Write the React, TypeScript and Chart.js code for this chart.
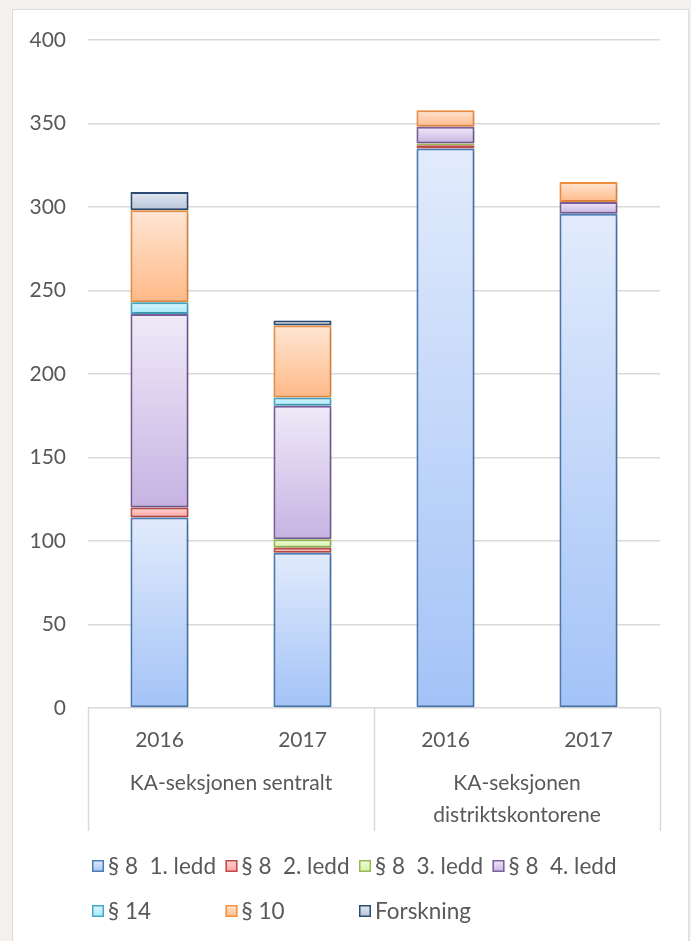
import React, { useEffect, useRef } from "react";
import { Chart, registerables } from "chart.js";

Chart.register(...registerables);

// ---- data ----
const years = ["2016", "2017", "2016", "2017"];
const groups = ["KA-seksjonen sentralt", ["KA-seksjonen", "distriktskontorene"]];
const seriesNames = ["§ 8  1. ledd", "§ 8  2. ledd", "§ 8  3. ledd", "§ 8  4. ledd", "§ 14", "§ 10", "Forskning"];
const s8l1 = [114, 93, 335, 296];
const s8l2 = [6, 3, 2, 0];
const s8l3 = [0, 5, 1, 0];
const s8l4 = [116, 80, 10, 7];
const s14 = [7, 5, 0, 0];
const s10 = [55, 43, 10, 12];
const forskning = [11, 3, 0, 0];
const seriesValues = [s8l1, s8l2, s8l3, s8l4, s14, s10, forskning];
const yTicks = [0, 50, 100, 150, 200, 250, 300, 350, 400];

// ---- styles ----
const borderColors = ["#4a7ebb", "#be4b48", "#98b954", "#7d60a0", "#46aac5", "#f69240", "#2c4d75"];
const lightColors = ["#e2ebfc", "#ffd9d8", "#f0fbdf", "#efeaf8", "#dcf7ff", "#ffe6d4", "#e3e8f0"];
const darkColors = ["#a3c3f7", "#ff9f9d", "#d4f3a2", "#c6b3e3", "#a6e8fa", "#ffb987", "#b7c4d8"];

const FONT = "Lato, 'Open Sans', sans-serif";
const TEXT = "#595959";
const GRID = "#d9d9d9";

function gradientFor(ctx: any, di: number) {
  const chart = ctx.chart;
  const y = chart.scales && chart.scales.y;
  if (ctx.type !== "data" || !y || !chart.chartArea) return lightColors[di];
  const i = ctx.dataIndex;
  let base = 0;
  for (let k = 0; k < di; k++) base += seriesValues[k][i];
  const top = base + seriesValues[di][i];
  const y0 = y.getPixelForValue(top);
  const y1 = y.getPixelForValue(base);
  if (!isFinite(y0) || !isFinite(y1) || y1 - y0 < 0.5) return darkColors[di];
  const g = chart.ctx.createLinearGradient(0, y0, 0, y1);
  g.addColorStop(0, lightColors[di]);
  g.addColorStop(1, darkColors[di]);
  return g;
}

const shadowPlugin = {
  id: "barShadow",
  beforeDatasetsDraw(chart: any) {
    const c = chart.ctx;
    c.save();
    c.shadowColor = "rgba(0,0,0,0.22)";
    c.shadowBlur = 4;
    c.shadowOffsetX = 1;
    c.shadowOffsetY = 1;
  },
  afterDatasetsDraw(chart: any) {
    chart.ctx.restore();
  },
};

const separatorPlugin = {
  id: "groupSeparators",
  afterDraw(chart: any) {
    const x = chart.scales.x;
    const x2 = chart.scales.x2;
    const c = chart.ctx;
    const top = chart.chartArea.bottom;
    const bottom = x2.bottom;
    const mid = (x.getPixelForValue(1) + x.getPixelForValue(2)) / 2;
    c.save();
    c.strokeStyle = GRID;
    c.lineWidth = 1.5;
    [x.left, mid, x.right].forEach((px) => {
      c.beginPath();
      c.moveTo(Math.round(px) + 0.5, top);
      c.lineTo(Math.round(px) + 0.5, bottom);
      c.stroke();
    });
    c.restore();
  },
};

const legendPlugin = {
  id: "gridLegend",
  afterDraw(chart: any) {
    const c = chart.ctx;
    c.save();
    c.font = `22.5px ${FONT}`;
    c.textBaseline = "middle";
    c.textAlign = "left";
    const box = 12;
    const gap = 4;
    const colW = 133.5;
    const cols = 4;
    const startX = chart.chartArea.left + 4;
    const firstRowY = chart.scales.x2.bottom + 35;
    const rowH = 45;
    seriesNames.forEach((name, k) => {
      const col = k % cols;
      const row = Math.floor(k / cols);
      const bx = startX + col * colW;
      const cy = firstRowY + row * rowH;
      const by = cy - box / 2;
      const g = c.createLinearGradient(0, by, 0, by + box);
      g.addColorStop(0, lightColors[k]);
      g.addColorStop(1, darkColors[k]);
      c.fillStyle = g;
      c.fillRect(bx, by, box, box);
      c.strokeStyle = borderColors[k];
      c.lineWidth = 1.5;
      c.strokeRect(bx + 0.75, by + 0.75, box - 1.5, box - 1.5);
      c.fillStyle = TEXT;
      c.fillText(name, bx + box + gap, cy + 1);
    });
    c.restore();
  },
};

export default function App() {
  const ref = useRef<HTMLCanvasElement | null>(null);

  useEffect(() => {
    if (!ref.current) return;
    const chart = new Chart(ref.current, {
      type: "bar",
      data: {
        labels: years,
        datasets: seriesNames.map((name, di) => ({
          label: name,
          data: seriesValues[di],
          backgroundColor: (ctx: any) => gradientFor(ctx, di),
          borderColor: borderColors[di],
          borderWidth: 2,
          borderSkipped: false,
          categoryPercentage: 1,
          barPercentage: 0.406,
        })),
      },
      plugins: [shadowPlugin, separatorPlugin, legendPlugin],
      options: {
        animation: false,
        responsive: false,
        maintainAspectRatio: false,
        layout: { padding: { top: 30, left: 0, right: 28, bottom: 110 } },
        plugins: {
          legend: { display: false },
          tooltip: { enabled: false },
        },
        scales: {
          x: {
            stacked: true,
            offset: true,
            grid: { display: false, drawTicks: false },
            border: { display: false },
            ticks: { color: TEXT, font: { family: FONT, size: 21 }, padding: 20, maxRotation: 0 },
            afterFit: (s: any) => { s.height = 45; },
          },
          x2: {
            type: "category",
            position: "bottom",
            labels: groups as any,
            offset: true,
            grid: { display: false, drawTicks: false },
            border: { display: false },
            ticks: { color: TEXT, font: { family: FONT, size: 21, lineHeight: 32 / 21 }, padding: 14, maxRotation: 0, autoSkip: false },
            afterFit: (s: any) => { s.height = 78; },
          },
          y: {
            stacked: true,
            min: 0,
            max: 400,
            afterBuildTicks: (s: any) => { s.ticks = yTicks.map((v) => ({ value: v })); },
            grid: { color: GRID, lineWidth: 1.5, drawTicks: false },
            border: { display: false },
            ticks: { color: TEXT, font: { family: FONT, size: 21 }, padding: 22 },
            afterFit: (s: any) => {
              s.width = 75;
              s.paddingTop = 12;
              s.paddingBottom = 12;
            },
          },
        },
      },
    });
    return () => chart.destroy();
  }, []);

  return (
    <div style={{ position: "fixed", inset: 0, background: "#f4f0ee", overflow: "hidden" }}>
      <div
        style={{
          position: "absolute",
          left: 12,
          top: 9,
          width: 675,
          height: 940,
          background: "#ffffff",
          border: "1px solid #dedad8",
        }}
      >
        <canvas ref={ref} width={675} height={931} style={{ display: "block", width: 675, height: 931 }} />
      </div>
    </div>
  );
}
